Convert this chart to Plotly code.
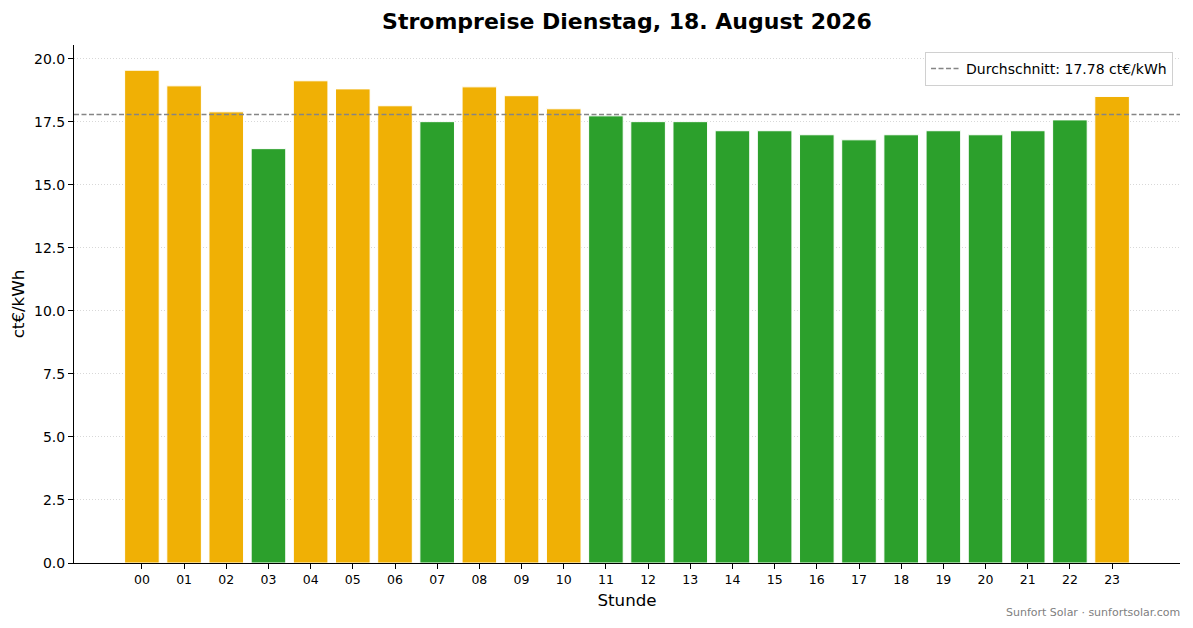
import plotly.graph_objects as go

# Strompreise pro Stunde (ct/kWh)
stunden = ['00', '01', '02', '03', '04', '05', '06', '07', '08', '09', '10', '11',
           '12', '13', '14', '15', '16', '17', '18', '19', '20', '21', '22', '23']
preise = [19.54, 18.92, 17.89, 16.43, 19.12, 18.80, 18.13, 17.50, 18.88, 18.53, 18.01, 17.73,
          17.50, 17.50, 17.14, 17.14, 16.98, 16.78, 16.98, 17.14, 16.98, 17.14, 17.57, 18.50]

durchschnitt = sum(preise) / len(preise)
farben = ['#f0b005' if p > durchschnitt else '#2ca02c' for p in preise]

fig = go.Figure()
fig.add_trace(go.Bar(x=list(range(len(stunden))), y=preise, marker_color=farben,
                     marker_line_color='white', marker_line_width=1,
                     width=0.82, showlegend=False))

# Durchschnittslinie ueber die ganze Breite
fig.add_shape(type='line', xref='paper', x0=0, x1=1, yref='y',
              y0=durchschnitt, y1=durchschnitt,
              line=dict(color='#858585', width=1.5, dash='5px,2.5px'),
              showlegend=True, name=f'Durchschnitt: {durchschnitt:.2f} ct€/kWh')

# Seite hat 8px Rand, daher etwas kleiner
fig.update_layout(
    title=dict(text='<b>Strompreise Dienstag, 18. August 2026</b>', xref='paper', x=0.5,
               xanchor='center', y=0.9785, yanchor='middle', font=dict(size=22, color='black')),
    font=dict(family='DejaVu Sans', color='black'),
    plot_bgcolor='white', paper_bgcolor='white',
    width=1177, height=612,
    margin=dict(l=66, r=5, t=37, b=57, autoexpand=False),
    legend=dict(x=0.9937, y=0.9865, xanchor='right', yanchor='top',
                bordercolor='#d0d0d0', borderwidth=1, bgcolor='white',
                font=dict(size=14)),
    annotations=[dict(text='Sunfort Solar · sunfortsolar.com', xref='paper', yref='paper',
                      x=1.0018, y=-0.0965, xanchor='right', yanchor='middle', showarrow=False,
                      font=dict(size=11, color='gray'))],
)
fig.update_xaxes(tickvals=list(range(len(stunden))), ticktext=stunden,
                 range=[-1.61, 24.61], showline=True, linecolor='black', linewidth=1,
                 ticks='outside', ticklen=5, tickcolor='black', tickfont=dict(size=12.5),
                 showgrid=False, zeroline=False, automargin=False,
                 title=dict(text='Stunde', font=dict(size=16.7), standoff=8))
fig.update_yaxes(range=[0, 20.54], dtick=2.5, tickformat='.1f',
                 showline=True, linecolor='black', linewidth=1,
                 ticks='outside', ticklen=5, tickcolor='black', tickfont=dict(size=14),
                 showgrid=True, gridcolor='#d8d8d8', griddash='1px,2px', gridwidth=1,
                 zeroline=False, automargin=False,
                 title=dict(text='ct€/kWh', font=dict(size=16.7), standoff=8))

fig.write_html('out.html')
